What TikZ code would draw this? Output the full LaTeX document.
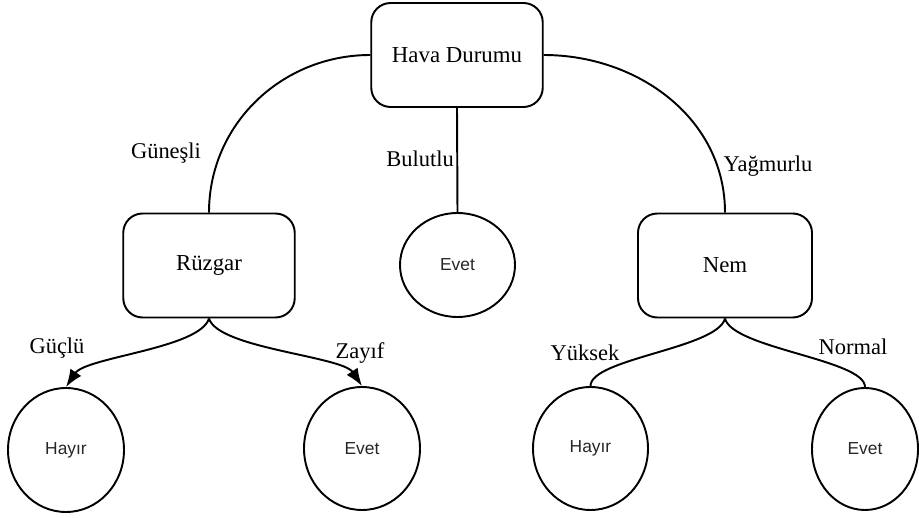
\documentclass[tikz,border=0pt]{standalone}
\usepackage{fontspec}
\setmainfont{Liberation Serif}
\newfontfamily\leaffont{Liberation Sans}
\usetikzlibrary{shapes.geometric,arrows.meta}
\begin{document}
\begin{tikzpicture}[
  box/.style={draw, line width=1.1pt, rounded corners=11pt, minimum width=3.43cm, minimum height=2.08cm, font=\fontsize{13}{15}\selectfont},
  leaf/.style={draw, ellipse, line width=1.1pt, inner sep=0pt, font=\leaffont\fontsize{9.9}{12}\selectfont, text=black!85},
  lbl/.style={font=\fontsize{12.8}{15}\selectfont},
  edge/.style={line width=1.1pt},
  arr/.style={line width=1.1pt, -{Latex[length=10pt,width=7.5pt]}}
]

\useasboundingbox (0,0) rectangle (18.38,10.36);

\node [box] (hd) at (9.14,9.26) {Hava Durumu};
\node [box] (rz) at (4.18,5.05) {Rüzgar};
\node [box, minimum width=3.48cm] (nm) at (14.5,5.05) {Nem};
\node [leaf, minimum width=2.3cm, minimum height=2.08cm] (ev) at (9.15,5.06) {Evet};

\node [leaf, minimum width=2.32cm, minimum height=2.48cm] (h1) at (1.32,1.36) {Hayır};
\node [leaf, minimum width=2.32cm, minimum height=2.46cm] (e1) at (7.24,1.39) {Evet};
\node [leaf, minimum width=2.3cm, minimum height=2.46cm] (h2) at (11.81,1.39) {Hayır};
\node [leaf, minimum width=2.12cm, minimum height=2.44cm] (e2) at (17.3,1.38) {Evet};

\draw [edge] (hd.west) to[out=180,in=90] (rz.north);
\draw [edge] (hd.south) -- (ev.north);
\draw [edge] (hd.east) to[out=0,in=90] (nm.north);

\draw [arr] (rz.south) .. controls +(-0.18,-0.6) and +(0.4,0.6) .. (h1.north);
\draw [arr] (rz.south) .. controls +(0.18,-0.6) and +(-0.4,0.6) .. (e1.north);
\draw [edge] (nm.south) .. controls +(-0.15,-0.6) and +(0,0.55) .. (h2.north);
\draw [edge] (nm.south) .. controls +(0.15,-0.6) and +(0,0.55) .. (e2.north);

\node [lbl] (l1) at (3.32,7.3) {Güneşli};
\node [lbl] (l2) at (8.4,7.18) {Bulutlu};
\node [lbl] (l3) at (15.36,7.04) {Yağmurlu};
\node [lbl] (l4) at (1.14,3.4) {Güçlü};
\node [lbl] (l5) at (7.2,3.3) {Zayıf};
\node [lbl] (l6) at (11.7,3.3) {Yüksek};
\node [lbl] (l7) at (17.06,3.42) {Normal};
\end{tikzpicture}
\end{document}
